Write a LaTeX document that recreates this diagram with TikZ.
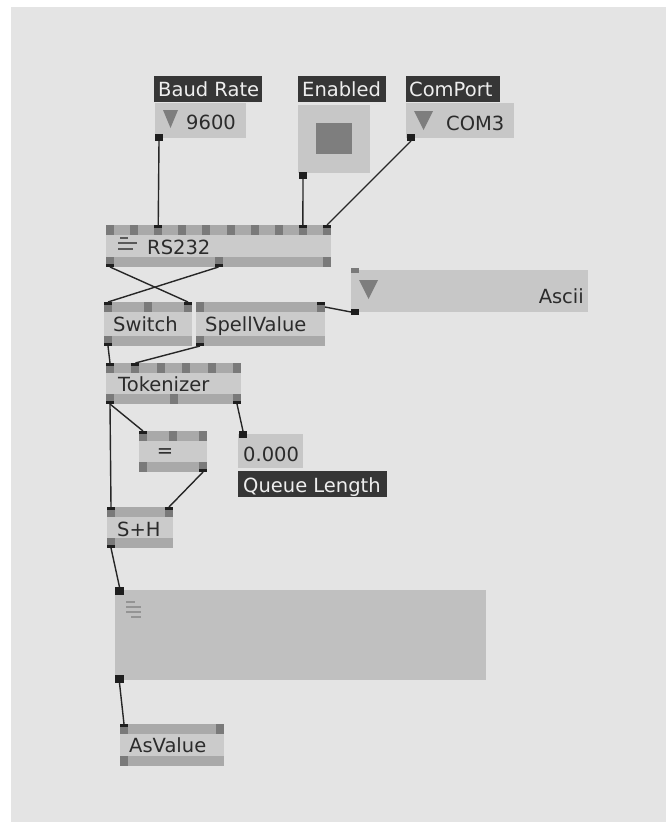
\documentclass[tikz,border=0pt]{standalone}
\usepackage{fontspec}
\setmainfont{DejaVu Sans}
\definecolor{bg}{HTML}{E4E4E4}
\definecolor{barfill}{HTML}{A9A9A9}
\definecolor{midfill}{HTML}{CBCBCB}
\definecolor{pinfill}{HTML}{7A7A7A}
\definecolor{pinblack}{HTML}{1E1E1E}
\definecolor{iofill}{HTML}{C7C7C7}
\definecolor{bigfill}{HTML}{C0C0C0}
\definecolor{labfill}{HTML}{363636}
\definecolor{labtext}{HTML}{EEEEEE}
\definecolor{txt}{HTML}{2B2B2B}
\definecolor{wirec}{HTML}{262626}
\definecolor{trifill}{HTML}{7E7E7E}
\tikzset{
  pin/.style={rectangle, fill=pinfill, minimum width=8pt, minimum height=10pt, inner sep=0pt, outer sep=0pt},
  iopin/.style={rectangle, fill=pinblack, minimum width=8pt, minimum height=7pt, inner sep=0pt, outer sep=0pt},
  ntext/.style={anchor=base west, inner sep=0pt, text=txt, font=\fontsize{19.5}{20}\selectfont},
  ltext/.style={ntext, text=labtext},
  wire/.style={draw=wirec, line width=1.4pt},
}
\newcommand\vnode[7]{%
  \fill[barfill] (#2,#3) rectangle (#4,#5);
  \fill[midfill] (#2,#3+10) rectangle (#4,#5-10);
  \foreach \i in {1,...,#6}{%
    \pgfmathsetmacro\px{#2+(\i-1)*(#4-#2-8)/max(#6-1,1)}
    \node[pin, anchor=north west] (#1-t\i) at (\px,#3) {};
  }
  \foreach \i in {1,...,#7}{%
    \pgfmathsetmacro\px{#2+(\i-1)*(#4-#2-8)/max(#7-1,1)}
    \node[pin, anchor=south west] (#1-b\i) at (\px,#5) {};
  }
}
\newcommand\conT[1]{\fill[pinblack] (#1.north west) rectangle ([yshift=-3pt]#1.north east);}
\newcommand\conB[1]{\fill[pinblack] (#1.south west) rectangle ([yshift=3pt]#1.south east);}
\begin{document}
\begin{tikzpicture}[x=1pt,y=-1pt]
\useasboundingbox (0,0) rectangle (666,822);
\fill[white] (0,0) rectangle (666,822);
\fill[bg] (11,7) rectangle (666,822);

% ---- top IO boxes ----
\fill[labfill] (154,76) rectangle (262,102);
\node[ltext] (lab-baud) at (158,96) {Baud Rate};
\fill[iofill] (155,103) rectangle (246,138);
\fill[trifill] (163,110) -- (178,110) -- (170.5,128) -- cycle;
\node[ntext] (io9600-l) at (186,129) {9600};
\node[iopin, anchor=north west] (io9600-o) at (155,134) {};

\fill[labfill] (298,76) rectangle (386,102);
\node[ltext] (lab-en) at (302,96) {Enabled};
\fill[iofill] (298,105) rectangle (370,173);
\fill[trifill] (316,123) rectangle (352,154);
\node[iopin, anchor=north west] (ioen-o) at (299,172) {};

\fill[labfill] (406,76) rectangle (500,102);
\node[ltext] (lab-com) at (409,96) {ComPort};
\fill[iofill] (406,103) rectangle (514,138);
\fill[trifill] (414,111) -- (433,111) -- (423.5,130) -- cycle;
\node[ntext] (iocom-l) at (446,130) {COM3};
\node[iopin, anchor=north west] (iocom-o) at (407,134) {};

% ---- Ascii enum ----
\fill[iofill] (351,270) rectangle (588,312);
\fill[trifill] (359,280) -- (378,280) -- (368.5,299) -- cycle;
\node[ntext, anchor=base east] (ascii-l) at (584,303) {Ascii};
\node[iopin, fill=pinfill, minimum height=5pt, anchor=north west] (ascii-i) at (351,268) {};
\node[iopin, minimum height=6pt, anchor=north west] (ascii-o) at (351,309) {};

% ---- nodes ----
\vnode{rs}{106}{225}{331}{267}{10}{3}
\node[ntext] (rs-l) at (147,254) {RS232};
\draw[line width=2pt, draw=black!65] (120,238) -- (128,238) (118,243) -- (137,243) (118,248.5) -- (133,248.5);
\conT{rs-t3}\conT{rs-t9}\conT{rs-t10}\conB{rs-b1}\conB{rs-b2}

\vnode{sw}{104}{302}{192}{346}{3}{1}
\node[ntext] (sw-l) at (113,331) {Switch};
\conT{sw-t1}\conT{sw-t3}\conB{sw-b1}

\vnode{sp}{196}{302}{325}{346}{2}{1}
\node[ntext] (sp-l) at (205,331) {SpellValue};
\conT{sp-t2}\conB{sp-b1}

\vnode{tok}{106}{363}{241}{404}{6}{3}
\node[ntext] (tok-l) at (118,391) {Tokenizer};
\conT{tok-t1}\conT{tok-t2}\conB{tok-b1}\conB{tok-b3}

\vnode{eq}{139}{431}{207}{472}{3}{2}
\node[ntext, anchor=center] (eq-l) at (165,453.5) {=};
\conT{eq-t1}\conB{eq-b2}

\vnode{sh}{107}{507}{173}{548}{2}{1}
\node[ntext] (sh-l) at (117,536) {S+H};
\conT{sh-t1}\conT{sh-t2}\conB{sh-b1}

% ---- Queue length ----
\fill[iofill] (238,434) rectangle (303,468);
\node[ntext] (ql-l) at (243,461) {0.000};
\node[iopin, anchor=north west] (ql-i) at (239,431) {};
\fill[labfill] (238,471) rectangle (387,497);
\node[ltext] (lab-ql) at (243,492) {Queue Length};

% ---- big box ----
\fill[bigfill] (115,590) rectangle (486,680);
\draw[line width=1.2pt, draw=black!42] (126,602) -- (135,602) (126,607) -- (141,607) (126,612) -- (141,612) (131,617) -- (141,617);
\node[iopin, minimum width=9pt, minimum height=8pt, anchor=north west] (big-i) at (115,587) {};
\node[iopin, minimum width=9pt, minimum height=8pt, anchor=north west] (big-o) at (115,675) {};

\vnode{asv}{120}{724}{224}{766}{2}{1}
\node[ntext] (asv-l) at (129,752) {AsValue};
\conT{asv-t1}

% ---- wires ----
\draw[wire] (io9600-o.south) -- (rs-t3.north);
\draw[wire] (ioen-o.south) -- (rs-t9.north);
\draw[wire] (iocom-o.south) -- (rs-t10.north);
\draw[wire] (rs-b1.south) -- (sw-t3.north);
\draw[wire] (rs-b2.south) -- (sw-t1.north);
\draw[wire] (ascii-o.west) -- (sp-t2.east);
\draw[wire] (sw-b1.south) -- (tok-t1.north);
\draw[wire] (sp-b1.south) -- (tok-t2.north);
\draw[wire] (tok-b1.south) -- (eq-t1.north);
\draw[wire] (tok-b1.south) -- (sh-t1.north);
\draw[wire] (eq-b2.south) -- (sh-t2.north);
\draw[wire] (tok-b3.south) -- (ql-i.north);
\draw[wire] (sh-b1.south) -- (big-i.north);
\draw[wire] (big-o.south) -- (asv-t1.north);
\end{tikzpicture}
\end{document}
